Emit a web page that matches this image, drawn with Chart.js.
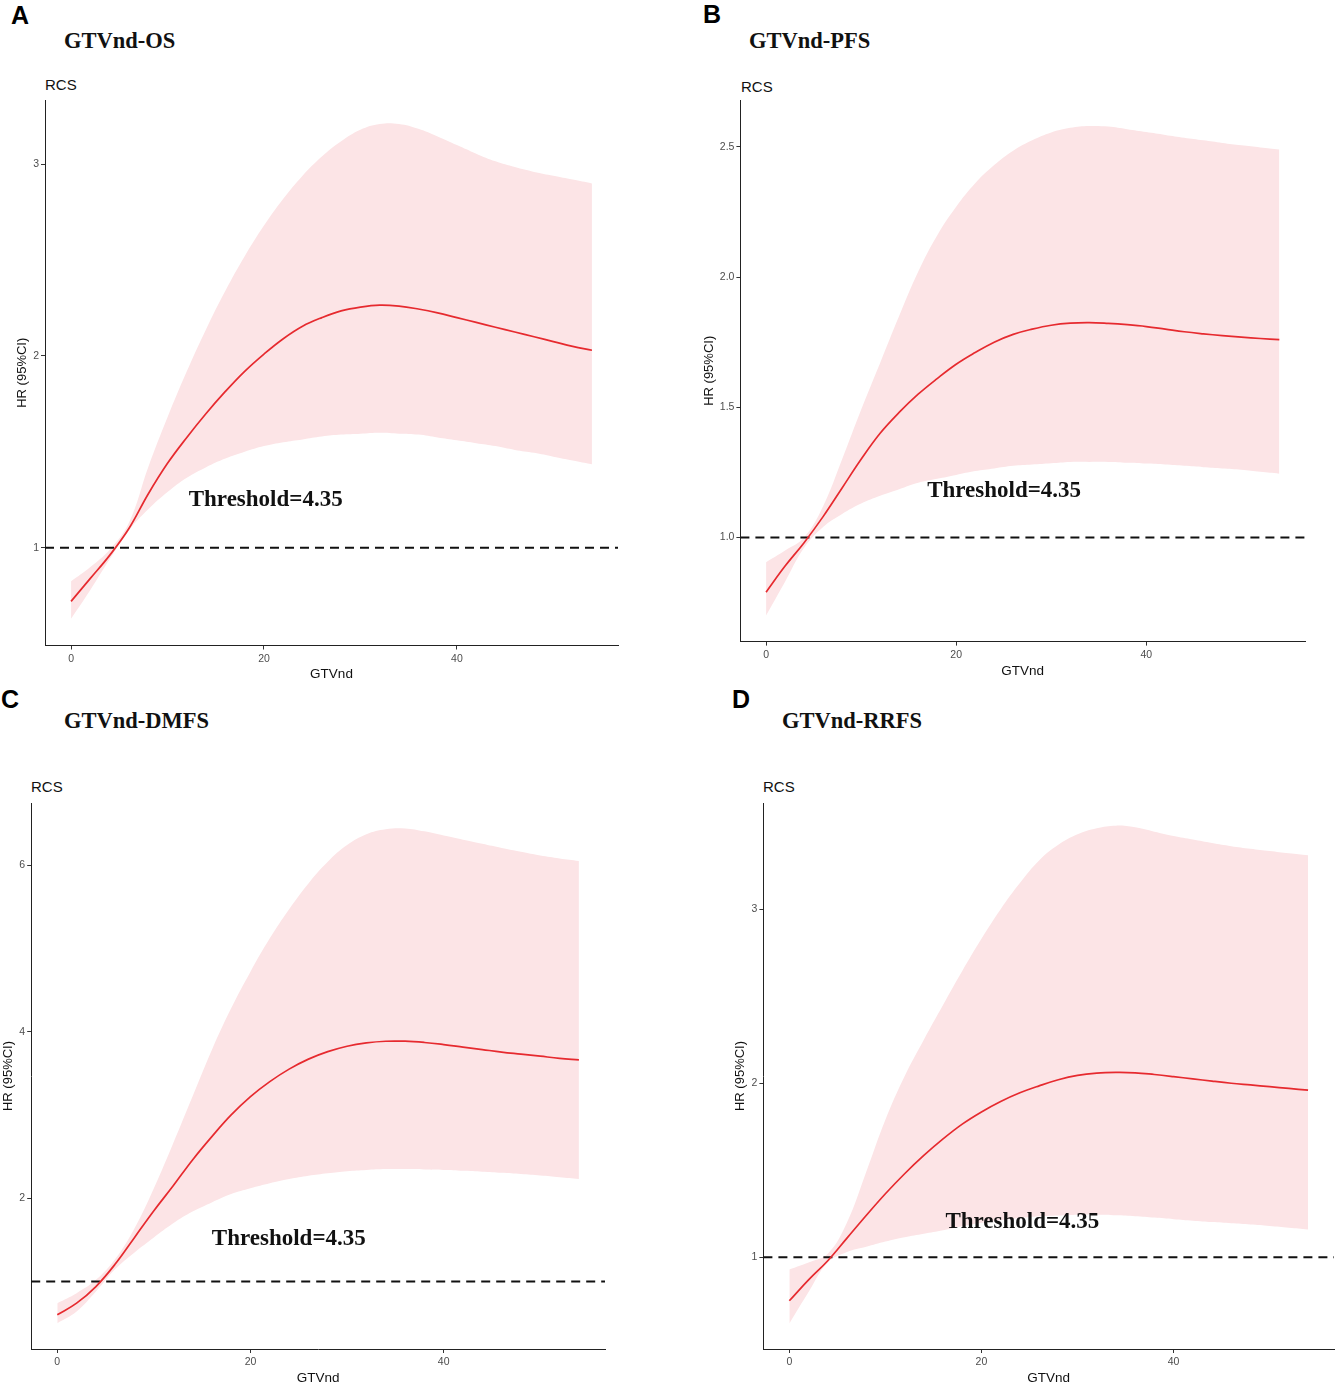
<!DOCTYPE html>
<html>
<head>
<meta charset="utf-8">
<script src="https://cdn.jsdelivr.net/npm/chart.js@4.4.1/dist/chart.umd.min.js"></script>
<style>
  html, body { margin:0; padding:0; background:#fff; }
  body { width:1337px; height:1383px; position:relative; overflow:hidden; }
  canvas { position:absolute; }
  .tag { position:absolute; font:bold 25px "Liberation Sans", Arial, sans-serif; line-height:1; color:#000; }
  .ttl { position:absolute; font:bold 22.5px "Liberation Serif", "Times New Roman", serif; line-height:1; color:#111; white-space:nowrap; }
  .rcs { position:absolute; font:15px "Liberation Sans", Arial, sans-serif; line-height:1; color:#111; }
</style>
</head>
<body>
<div class="tag" style="left:11px;top:3px">A</div>
<div class="ttl" style="left:64px;top:30px">GTVnd-OS</div>
<div class="rcs" style="left:45px;top:77px">RCS</div>

<div class="tag" style="left:703px;top:2px">B</div>
<div class="ttl" style="left:749px;top:30px">GTVnd-PFS</div>
<div class="rcs" style="left:741px;top:79px">RCS</div>

<div class="tag" style="left:1px;top:687px">C</div>
<div class="ttl" style="left:64px;top:710px">GTVnd-DMFS</div>
<div class="rcs" style="left:31px;top:779px">RCS</div>

<div class="tag" style="left:732px;top:687px">D</div>
<div class="ttl" style="left:782px;top:710px">GTVnd-RRFS</div>
<div class="rcs" style="left:763px;top:779px">RCS</div>

<canvas id="cA"></canvas>
<canvas id="cB"></canvas>
<canvas id="cC"></canvas>
<canvas id="cD"></canvas>

<script>
// GTVnd values where the curves were read
const gtv = [0,2,4,6,8,10,12,14,16,18,20,22,24,26,28,30,32,34,36,38,40,42,44,46,48,50,52,54];

// A: GTVnd-OS
const hrA = [0.72,0.84,0.96,1.10,1.28,1.44,1.575,1.70,1.815,1.92,2.01,2.09,2.155,2.20,2.235,2.255,2.265,2.26,2.245,2.225,2.20,2.175,2.15,2.125,2.10,2.075,2.05,2.03];
const hiA = [0.825,0.90,0.99,1.13,1.42,1.68,1.92,2.14,2.34,2.52,2.68,2.82,2.94,3.04,3.12,3.18,3.21,3.21,3.185,3.145,3.10,3.055,3.015,2.985,2.96,2.94,2.92,2.90];
const loA = [0.63,0.78,0.94,1.09,1.20,1.29,1.365,1.42,1.465,1.50,1.53,1.55,1.565,1.58,1.59,1.595,1.60,1.595,1.59,1.575,1.56,1.545,1.53,1.51,1.495,1.475,1.455,1.435];

// B: GTVnd-PFS
const hrB = [0.79,0.89,0.98,1.08,1.19,1.30,1.40,1.48,1.55,1.61,1.665,1.71,1.75,1.78,1.80,1.815,1.823,1.825,1.822,1.817,1.81,1.80,1.79,1.782,1.775,1.769,1.764,1.76];
const hiB = [0.905,0.95,1.00,1.12,1.30,1.49,1.67,1.85,2.02,2.16,2.27,2.36,2.43,2.485,2.525,2.555,2.573,2.58,2.578,2.568,2.557,2.546,2.535,2.525,2.515,2.506,2.498,2.49];
const loB = [0.70,0.83,0.96,1.04,1.09,1.13,1.16,1.185,1.21,1.225,1.24,1.255,1.265,1.275,1.28,1.285,1.29,1.29,1.29,1.287,1.284,1.28,1.275,1.27,1.265,1.26,1.252,1.245];

// C: GTVnd-DMFS
const hrC = [0.60,0.74,0.94,1.21,1.53,1.85,2.15,2.46,2.74,3.00,3.22,3.40,3.55,3.67,3.76,3.825,3.865,3.885,3.885,3.87,3.845,3.815,3.785,3.755,3.73,3.705,3.68,3.66];
const hiC = [0.74,0.86,1.02,1.27,1.64,2.12,2.66,3.22,3.78,4.28,4.72,5.12,5.47,5.78,6.04,6.24,6.37,6.43,6.44,6.405,6.355,6.305,6.255,6.205,6.16,6.115,6.08,6.05];
const loC = [0.50,0.64,0.88,1.15,1.35,1.53,1.70,1.84,1.95,2.05,2.12,2.18,2.23,2.27,2.30,2.325,2.34,2.35,2.35,2.345,2.34,2.33,2.318,2.305,2.29,2.272,2.252,2.23];

// D: GTVnd-RRFS
const hrD = [0.75,0.87,0.98,1.11,1.24,1.365,1.48,1.585,1.68,1.765,1.835,1.895,1.945,1.985,2.02,2.045,2.058,2.062,2.06,2.05,2.038,2.025,2.012,2.00,1.99,1.98,1.97,1.96];
const hiD = [0.93,0.97,1.02,1.20,1.49,1.79,2.04,2.25,2.45,2.645,2.83,3.00,3.15,3.28,3.37,3.43,3.465,3.48,3.47,3.445,3.42,3.40,3.38,3.362,3.347,3.334,3.321,3.31];
const loD = [0.62,0.80,0.97,1.03,1.06,1.09,1.115,1.135,1.155,1.178,1.198,1.213,1.225,1.235,1.24,1.245,1.245,1.242,1.236,1.228,1.219,1.21,1.202,1.195,1.188,1.18,1.17,1.16];

// tick labels
const xTicks = [0, 20, 40];
const yTicksA = [1, 2, 3];
const yTicksB = [1.0, 1.5, 2.0, 2.5];
const yTicksC = [2, 4, 6];
const yTicksD = [1, 2, 3];

const refHR = 1;
const thresholdLabel = "Threshold=4.35";
const xMin = -2.7, xMax = 56.7;

Chart.defaults.font.family = '"Liberation Sans", Arial, sans-serif';
Chart.defaults.animation = false;

/* threshold text, placed in data units */
const thresholdText = {
  id: "thresholdText",
  afterDatasetsDraw(chart, args, opts) {
    const { ctx, scales: { x, y } } = chart;
    ctx.save();
    ctx.font = 'bold 23px "Liberation Serif", "Times New Roman", serif';
    ctx.fillStyle = "#111";
    ctx.textBaseline = "middle";
    ctx.fillText(opts.text, x.getPixelForValue(opts.x), y.getPixelForValue(opts.y));
    ctx.restore();
  }
};

function pts(ys) {
  return gtv.map((x, i) => ({ x: x, y: ys[i] }));
}

function panel(id, box, yMin, yMax, yTicks, fmt, hr, lo, hi, thr) {
  const canvas = document.getElementById(id);
  const cl = Math.round(box.hrX - 7.8);
  const ct = Math.round(box.T - 10);
  const w = Math.round(box.R + 3 - cl);
  const h = Math.round(box.gtvY + 8.1 - ct);
  canvas.width = w;
  canvas.height = h;
  canvas.style.left = cl + "px";
  canvas.style.top = ct + "px";
  const yW = box.L - cl;
  const xH = h - (box.B - ct);

  new Chart(canvas, {
    type: "line",
    data: {
      datasets: [
        { data: pts(hr), borderColor: "#e62a2f", borderWidth: 1.7, pointRadius: 0,
          tension: 0.4, fill: false },
        { data: [{ x: xMin, y: refHR }, { x: xMax, y: refHR }], borderColor: "#111",
          borderWidth: 2, borderDash: [9, 6], pointRadius: 0, fill: false },
        { data: pts(hi), borderWidth: 0, pointRadius: 0, tension: 0.4,
          backgroundColor: "#fce4e6", fill: "+1" },
        { data: pts(lo), borderWidth: 0, pointRadius: 0, tension: 0.4, fill: false }
      ]
    },
    options: {
      responsive: false,
      devicePixelRatio: 1,
      layout: { padding: { left: 0, top: 10, right: 3, bottom: 0 } },
      plugins: {
        legend: { display: false },
        tooltip: { enabled: false },
        thresholdText: { text: thresholdLabel, x: thr.x, y: thr.y }
      },
      scales: {
        x: {
          type: "linear", min: xMin, max: xMax,
          afterBuildTicks: s => { s.ticks = xTicks.map(v => ({ value: v })); },
          afterFit: s => { s.height = xH; },
          ticks: { color: "#4d4d4d", font: { size: 10.5 }, padding: 3, maxRotation: 0 },
          grid: { drawOnChartArea: false, tickLength: 4, color: "#333" },
          border: { display: true, color: "#222", width: 1 },
          title: { display: true, text: "GTVnd", color: "#111", font: { size: 13.5 },
                   padding: { top: 0, bottom: 0 } }
        },
        y: {
          type: "linear", min: yMin, max: yMax,
          afterBuildTicks: s => { s.ticks = yTicks.map(v => ({ value: v })); },
          afterFit: s => { s.width = yW; },
          ticks: { color: "#4d4d4d", font: { size: 10.5 }, padding: 2,
                   callback: v => fmt(v) },
          grid: { drawOnChartArea: false, tickLength: 4, color: "#333" },
          border: { display: true, color: "#222", width: 1 },
          title: { display: true, text: "HR (95%CI)", color: "#111", font: { size: 13 },
                   padding: { top: 0, bottom: 0 } }
        }
      }
    },
    plugins: [thresholdText]
  });
}

const int = v => String(v);
const one = v => v.toFixed(1);

panel("cA", { L: 45, T: 100, R: 618, B: 645.5, hrX: 23, gtvY: 674 },
      0.49, 3.335, yTicksA, int, hrA, loA, hiA, { x: 12.2, y: 1.25 });
panel("cB", { L: 740.4, T: 100.2, R: 1304.7, B: 641.6, hrX: 709.5, gtvY: 670.5 },
      0.6, 2.68, yTicksB, one, hrB, loB, hiB, { x: 16.95, y: 1.18 });
panel("cC", { L: 31.2, T: 803, R: 604.5, B: 1349, hrX: 8.4, gtvY: 1377.5 },
      0.19, 6.745, yTicksC, int, hrC, loC, hiC, { x: 16.0, y: 1.51 });
panel("cD", { L: 763.4, T: 803, R: 1333.6, B: 1349, hrX: 741, gtvY: 1377.5 },
      0.473, 3.61, yTicksD, int, hrD, loD, hiD, { x: 16.25, y: 1.2 });
</script>
</body>
</html>
